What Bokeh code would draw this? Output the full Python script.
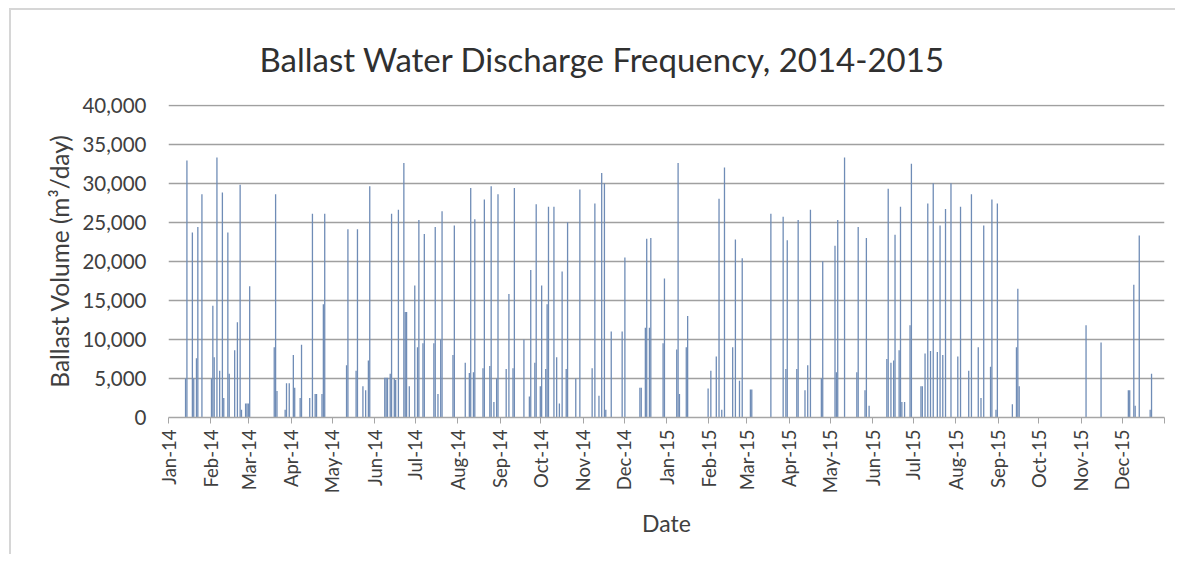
import math
import pandas as pd
from bokeh.plotting import figure
from bokeh.models import ColumnDataSource, FixedTicker, NumeralTickFormatter, Title
from bokeh.embed import file_html
from bokeh.resources import INLINE

# ---- data ----
dates = [
    "2014-01-13", "2014-01-14", "2014-01-18", "2014-01-19", "2014-01-21", "2014-01-22", "2014-01-25",
    "2014-02-01", "2014-02-02", "2014-02-03", "2014-02-05", "2014-02-07", "2014-02-09", "2014-02-10",
    "2014-02-13", "2014-02-14", "2014-02-18", "2014-02-20", "2014-02-22", "2014-02-23", "2014-02-26",
    "2014-02-27", "2014-02-28", "2014-03-01", "2014-03-19", "2014-03-20", "2014-03-21", "2014-03-27",
    "2014-03-28", "2014-03-30", "2014-04-02", "2014-04-03", "2014-04-07", "2014-04-08", "2014-04-14",
    "2014-04-16", "2014-04-18", "2014-04-19", "2014-04-23", "2014-04-24", "2014-04-25", "2014-05-11",
    "2014-05-12", "2014-05-18", "2014-05-19", "2014-05-23", "2014-05-25", "2014-05-27", "2014-05-28",
    "2014-06-08", "2014-06-09", "2014-06-10", "2014-06-12", "2014-06-13", "2014-06-15", "2014-06-16",
    "2014-06-18", "2014-06-22", "2014-06-23", "2014-06-24", "2014-06-26", "2014-06-30", "2014-07-02",
    "2014-07-03", "2014-07-06", "2014-07-07", "2014-07-14", "2014-07-15", "2014-07-17", "2014-07-19",
    "2014-07-20", "2014-07-28", "2014-07-29", "2014-08-06", "2014-08-09", "2014-08-10", "2014-08-12",
    "2014-08-13", "2014-08-19", "2014-08-20", "2014-08-24", "2014-08-25", "2014-08-27", "2014-08-29",
    "2014-08-30", "2014-09-05", "2014-09-07", "2014-09-10", "2014-09-11", "2014-09-18", "2014-09-22",
    "2014-09-23", "2014-09-26", "2014-09-27", "2014-09-30", "2014-10-01", "2014-10-04", "2014-10-05",
    "2014-10-06", "2014-10-10", "2014-10-12", "2014-10-14", "2014-10-16", "2014-10-19", "2014-10-20",
    "2014-10-26", "2014-10-29", "2014-11-07", "2014-11-09", "2014-11-12", "2014-11-14", "2014-11-16",
    "2014-11-17", "2014-11-21", "2014-11-29", "2014-12-01", "2014-12-12", "2014-12-13", "2014-12-16",
    "2014-12-17", "2014-12-19", "2014-12-20", "2014-12-29", "2014-12-30",
    "2015-01-08", "2015-01-09", "2015-01-10", "2015-01-15", "2015-01-16", "2015-01-31", "2015-02-02",
    "2015-02-06", "2015-02-08", "2015-02-10", "2015-02-12", "2015-02-18", "2015-02-20", "2015-02-23",
    "2015-02-25", "2015-03-03", "2015-03-04", "2015-03-18", "2015-03-27", "2015-03-29", "2015-03-30",
    "2015-04-06", "2015-04-07", "2015-04-12", "2015-04-14", "2015-04-16", "2015-04-24", "2015-04-25",
    "2015-05-04", "2015-05-05", "2015-05-06", "2015-05-11", "2015-05-20", "2015-05-21", "2015-05-26",
    "2015-05-27", "2015-05-29", "2015-06-11", "2015-06-12", "2015-06-14", "2015-06-16", "2015-06-17",
    "2015-06-20", "2015-06-21", "2015-06-22", "2015-06-24", "2015-06-28", "2015-06-29", "2015-07-06",
    "2015-07-07", "2015-07-09", "2015-07-11", "2015-07-13", "2015-07-15", "2015-07-18", "2015-07-20",
    "2015-07-22", "2015-07-24", "2015-07-28", "2015-08-02", "2015-08-04", "2015-08-10", "2015-08-12",
    "2015-08-17", "2015-08-19", "2015-08-21", "2015-08-26", "2015-08-27", "2015-08-30", "2015-08-31",
    "2015-09-11", "2015-09-14", "2015-09-15", "2015-09-16", "2015-11-04", "2015-11-15", "2015-12-05",
    "2015-12-06", "2015-12-09", "2015-12-10", "2015-12-13", "2015-12-21", "2015-12-22",
]

volumes = [
    5000, 32900, 23700, 5000, 7600, 24400, 28600,
    5000, 14300, 7700, 33300, 6000, 28800, 2500,
    23700, 5600, 8600, 12200, 29800, 1000, 1800,
    1800, 1800, 16800, 9000, 28600, 3400, 1000,
    4400, 4400, 8000, 3800, 2500, 9300, 2500,
    26100, 3000, 3000, 3000, 14500, 26100, 6700,
    24100, 6000, 24100, 4000, 3500, 7300, 29600,
    5100, 5100, 5100, 5600, 26100, 5000, 4800,
    26600, 32600, 13500, 13500, 4000, 16900, 9000,
    25300, 9500, 23500, 9500, 24400, 3000, 10000,
    26400, 8000, 24600, 7000, 5700, 29400, 5800,
    25400, 6300, 27900, 6600, 29600, 2000, 5000,
    28600, 6200, 15800, 6300, 29400, 10000, 2700,
    18900, 7000, 27300, 4000, 16900, 6200, 14500,
    27000, 27000, 7700, 1800, 18700, 6200, 25000,
    5000, 29200, 6300, 27400, 2800, 31300, 30000,
    1000, 11000, 11000, 20500, 3800, 3800, 11500,
    22900, 11500, 23000, 9500, 17800,
    8700, 32600, 3000, 9000, 13000, 3700, 6000,
    7800, 28000, 1000, 32000, 9000, 22800, 4700,
    20400, 3600, 3600, 26100, 25700, 6200, 22700,
    6200, 25300, 3500, 6700, 26600, 5000, 20000,
    22000, 5800, 25300, 33300, 5800, 24400, 3500,
    23000, 1500, 7500, 29300, 7000, 7300, 23400,
    8600, 27000, 2000, 2000, 11800, 32500, 4000,
    4000, 8200, 27400, 8500, 30000, 8400, 24600,
    8000, 26700, 30000, 7800, 27000, 6000, 28600,
    9000, 2500, 24600, 6500, 27900, 1000, 27400,
    1700, 9000, 16500, 4000, 11800, 9600, 3500,
    3500, 17000, 1500, 23300, 1000, 5600,
]

month_starts = [
    "2014-01-01", "2014-02-01", "2014-03-01", "2014-04-01", "2014-05-01", "2014-06-01",
    "2014-07-01", "2014-08-01", "2014-09-01", "2014-10-01", "2014-11-01", "2014-12-01",
    "2015-01-01", "2015-02-01", "2015-03-01", "2015-04-01", "2015-05-01", "2015-06-01",
    "2015-07-01", "2015-08-01", "2015-09-01", "2015-10-01", "2015-11-01", "2015-12-01",
]
month_labels = [
    "Jan-14", "Feb-14", "Mar-14", "Apr-14", "May-14", "Jun-14",
    "Jul-14", "Aug-14", "Sep-14", "Oct-14", "Nov-14", "Dec-14",
    "Jan-15", "Feb-15", "Mar-15", "Apr-15", "May-15", "Jun-15",
    "Jul-15", "Aug-15", "Sep-15", "Oct-15", "Nov-15", "Dec-15",
]
y_ticks = [0, 5000, 10000, 15000, 20000, 25000, 30000, 35000, 40000]

# ---- build ----
origin = pd.Timestamp("2014-01-01")
end = pd.Timestamp("2016-01-01")
day_pos = [(pd.Timestamp(d) - origin).days + 0.5 for d in dates]
tick_pos = [(pd.Timestamp(m) - origin).days for m in month_starts]
x_end = (end - origin).days

src = ColumnDataSource(dict(x=day_pos, top=volumes))

TEXT = "#404040"
FONT = "Lato"

# the chart box starts 10px in from the page corner (outer frame lines)
p = figure(
    width=1164, height=544,
    x_range=(0, x_end), y_range=(0, 40080),
    output_backend="svg", toolbar_location=None,
    min_border_left=157, min_border_right=13, min_border_top=94, min_border_bottom=139,
    background_fill_color="white", border_fill_color="white",
    styles={"margin-left": "9px", "margin-top": "8px", "box-sizing": "content-box",
            "border-left": "2px solid #d6d6d6", "border-top": "2px solid #d6d6d6"},
)
p.outline_line_color = None

p.add_layout(Title(text="Ballast Water Discharge Frequency, 2014-2015", align="left",
                   text_font=FONT, text_font_size="33px", text_font_style="normal",
                   text_color="#303030", standoff=52, offset=91), "above")

p.vbar(x="x", top="top", bottom=0, width=0.95, source=src,
       fill_color="#6f8cb6", line_color=None)

# y axis
p.yaxis.ticker = FixedTicker(ticks=y_ticks)
p.yaxis.formatter = NumeralTickFormatter(format="0,0")
p.yaxis.axis_line_color = None
p.yaxis.major_tick_line_color = None
p.yaxis.minor_tick_line_color = None
p.yaxis.major_label_standoff = 16
p.yaxis.major_label_text_font = FONT
p.yaxis.major_label_text_font_size = "20.5px"
p.yaxis.major_label_text_color = TEXT
p.yaxis.axis_label = "Ballast Volume (m³/day)"
p.yaxis.axis_label_text_font = FONT
p.yaxis.axis_label_text_font_size = "24.5px"
p.yaxis.axis_label_text_font_style = "normal"
p.yaxis.axis_label_text_color = TEXT
p.yaxis.axis_label_standoff = 5

# x axis
p.xaxis.ticker = FixedTicker(ticks=tick_pos + [x_end])
p.xaxis.major_label_overrides = {t: l for t, l in zip(tick_pos, month_labels)} | {x_end: ""}
p.xaxis.major_label_orientation = math.pi / 2
p.xaxis.major_label_text_font = FONT
p.xaxis.major_label_text_font_size = "18.5px"
p.xaxis.major_label_text_color = TEXT
p.xaxis.major_label_standoff = 6
p.xaxis.axis_line_color = "#a6a6a6"
p.xaxis.axis_line_width = 1.5
p.xaxis.major_tick_line_color = "#a6a6a6"
p.xaxis.major_tick_in = 0
p.xaxis.major_tick_out = 6
p.xaxis.minor_tick_line_color = None
p.xaxis.axis_label = "Date"
p.xaxis.axis_label_text_font = FONT
p.xaxis.axis_label_text_font_size = "23px"
p.xaxis.axis_label_text_font_style = "normal"
p.xaxis.axis_label_text_color = TEXT
p.xaxis.axis_label_standoff = 13

# grid
p.xgrid.grid_line_color = None
p.ygrid.grid_line_color = "#a0a0a0"
p.ygrid.grid_line_width = 1.5

open("out.html", "w").write(file_html(p, INLINE))
